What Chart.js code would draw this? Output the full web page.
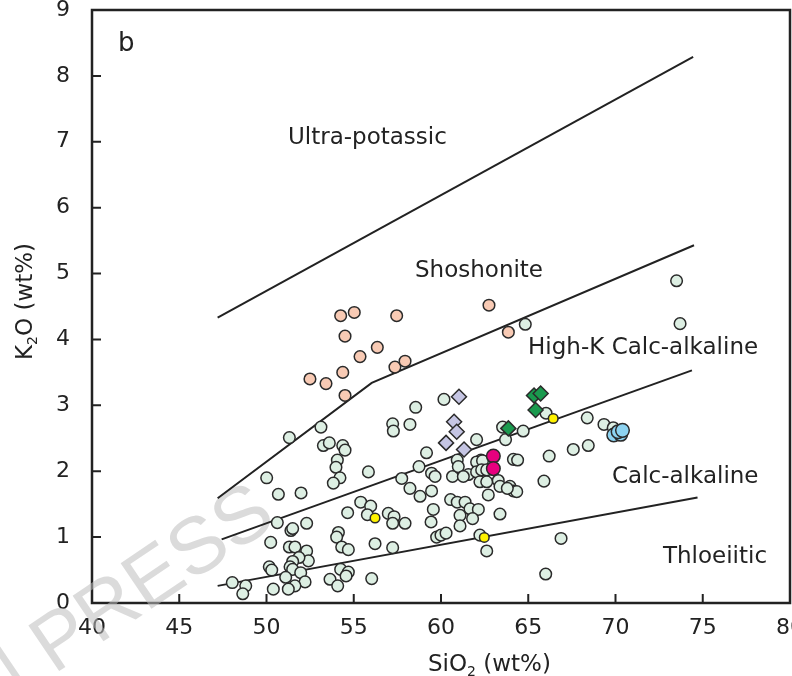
<!DOCTYPE html>
<html>
<head>
<meta charset="utf-8">
<script src="https://cdn.jsdelivr.net/npm/chart.js@4.4.0/dist/chart.umd.min.js"></script>
<style>
  html, body { margin: 0; padding: 0; background: #fff; }
</style>
</head>
<body>
<canvas id="chart" width="792" height="676"></canvas>
<script>
// K2O vs SiO2 classification diagram (panel b)

// axis ticks
const xTicks = [40, 45, 50, 55, 60, 65, 70, 75, 80];
const yTicks = [0, 1, 2, 3, 4, 5, 6, 7, 8, 9];

// field boundary lines
const ultraLineSiO2 = [47.2, 74.45];
const ultraLineK2O = [4.33, 8.29];
const shoLineSiO2 = [47.2, 56.03, 74.5];
const shoLineK2O = [1.59, 3.34, 5.43];
const highKLineSiO2 = [47.43, 74.38];
const highKLineK2O = [0.965, 3.53];
const tholLineSiO2 = [47.2, 74.7];
const tholLineK2O = [0.26, 1.60];

// mint circles
const mintSiO2 = [51.31, 53.12, 53.26, 53.6, 54.37, 54.5, 54.06, 53.98, 54.21, 53.83,
  55.84, 50.01, 50.68, 51.98, 50.62, 52.3, 51.4, 51.5, 50.24, 51.31,
  51.63, 52.3, 52.4, 51.86, 51.5, 51.35, 51.5, 51.96, 51.1, 52.21,
  51.63, 51.25, 50.16, 50.3, 50.39, 48.04, 48.81, 48.64, 54.65, 55.4,
  55.97, 55.78, 56.98, 57.31, 57.23, 54.12, 54.02, 54.31, 54.69, 56.22,
  57.23, 54.25, 54.69, 54.56, 53.64, 54.08, 56.03, 57.23, 57.27, 57.75,
  58.55, 60.17, 58.22, 62.04, 59.17, 58.74, 63.53, 64.71, 63.7, 66.02,
  68.38, 67.58, 68.44, 66.2, 64.15, 64.39, 62.29, 62.04, 60.93, 69.34,
  69.87, 65.9, 66.88, 66.0, 62.23, 62.62, 59.46, 59.66, 60.66, 60.99,
  61.57, 61.28, 62.38, 62.04, 62.33, 62.62, 62.23, 62.62, 63.28, 63.38,
  63.95, 64.15, 64.34, 63.8, 62.71, 58.22, 58.8, 59.46, 60.55, 60.93,
  61.38, 61.66, 62.14, 61.09, 61.09, 61.81, 59.56, 59.43, 63.38, 57.94,
  59.75, 60.0, 60.29, 64.83, 73.5, 73.7];
const mintK2O = [2.51, 2.67, 2.39, 2.43, 2.39, 2.32, 2.17, 2.06, 1.90, 1.82,
  1.99, 1.90, 1.65, 1.67, 1.22, 1.21, 1.10, 1.13, 0.92, 0.85,
  0.85, 0.79, 0.64, 0.69, 0.63, 0.55, 0.51, 0.46, 0.39, 0.32,
  0.26, 0.21, 0.55, 0.50, 0.21, 0.31, 0.26, 0.14, 1.37, 1.53,
  1.47, 1.34, 1.36, 1.31, 1.21, 1.07, 1.0, 0.85, 0.81, 0.90,
  0.84, 0.51, 0.47, 0.41, 0.36, 0.26, 0.37, 2.72, 2.61, 1.89,
  2.97, 3.09, 2.71, 2.48, 2.28, 2.07, 2.67, 2.61, 2.48, 2.88,
  2.81, 2.33, 2.39, 2.23, 2.18, 2.17, 2.17, 2.14, 2.17, 2.71,
  2.66, 1.85, 0.98, 0.44, 1.03, 0.79, 1.97, 1.92, 1.92, 2.07,
  1.95, 1.92, 2.16, 1.99, 2.02, 2.02, 1.84, 1.84, 1.86, 1.77,
  1.77, 1.70, 1.69, 1.74, 1.64, 1.74, 1.62, 1.70, 1.57, 1.53,
  1.53, 1.43, 1.42, 1.33, 1.17, 1.28, 1.42, 1.23, 1.35, 1.21,
  1.0, 1.03, 1.06, 4.23, 4.89, 4.24];

// peach circles
const peachSiO2 = [52.49, 53.41, 54.37, 54.5, 54.5, 55.36, 56.35, 57.36, 57.94, 54.25, 55.03, 57.46, 62.75, 63.86];
const peachK2O = [3.40, 3.33, 3.50, 4.05, 3.15, 3.74, 3.88, 3.58, 3.67, 4.36, 4.41, 4.36, 4.52, 4.11];

// lilac diamonds
const lilacSiO2 = [61.03, 60.75, 60.9, 60.29, 61.32];
const lilacK2O = [3.13, 2.75, 2.6, 2.43, 2.33];

// green diamonds
const greenSiO2 = [65.33, 65.71, 65.42, 63.86];
const greenK2O = [3.15, 3.18, 2.93, 2.65];

// magenta circles
const magentaSiO2 = [63.0, 63.0];
const magentaK2O = [2.23, 2.04];

// yellow circles
const yellowSiO2 = [56.22, 66.43, 62.48];
const yellowK2O = [1.29, 2.80, 0.995];

// sky blue circles
const blueSiO2 = [69.9, 70.3, 70.15, 70.4];
const blueK2O = [2.55, 2.56, 2.6, 2.62];

const FONT = '"DejaVu Sans", sans-serif';
const INK = '#222';

function pts(xs, ys) { return xs.map((x, i) => ({ x: x, y: ys[i] })); }

function lineSet(xs, ys) {
    return { type: 'line', data: pts(xs, ys), borderColor: INK, borderWidth: 2, pointRadius: 0, fill: false, tension: 0, order: 10 };
}

function markerSet(xs, ys, color, style, r, order) {
    return { type: 'scatter', data: pts(xs, ys), pointStyle: style, pointRadius: r, backgroundColor: color,
        borderColor: '#2a2a2a', borderWidth: 1.5, order: order };
}

// text placed at data coordinates (left edge, baseline)
const fieldLabels = [
    { text: 'Ultra-potassic', x: 51.23, y: 6.97 },
    { text: 'Shoshonite', x: 58.51, y: 4.955 },
    { text: 'High-K Calc-alkaline', x: 64.99, y: 3.773 },
    { text: 'Calc-alkaline', x: 69.8, y: 1.823 },
    { text: 'Thloeiitic', x: 72.72, y: 0.606 }
];

function drawParts(ctx, parts, x, y) {
    parts.forEach(p => {
        ctx.font = (p[1] ? '14px ' : '23px ') + FONT;
        ctx.fillText(p[0], x, p[1] ? y + 5 : y);
        x += ctx.measureText(p[0]).width;
    });
}

function noPad(s) {
    s.paddingLeft = 0; s.paddingRight = 0; s.paddingTop = 0; s.paddingBottom = 0;
}

const decor = {
    id: 'decor',
    beforeDatasetsDraw(chart) {
        const ctx = chart.ctx, a = chart.chartArea;
        const xs = chart.scales.x, ys = chart.scales.y;
        ctx.save();
        ctx.strokeStyle = INK;
        ctx.lineWidth = 2.5;
        ctx.strokeRect(a.left, a.top, a.right - a.left, a.bottom - a.top);
        // inward ticks
        ctx.lineWidth = 2;
        ctx.beginPath();
        xTicks.slice(1, -1).forEach(v => {
            const px = xs.getPixelForValue(v);
            ctx.moveTo(px, a.bottom); ctx.lineTo(px, a.bottom - 9);
        });
        yTicks.slice(1, -1).forEach(v => {
            const py = ys.getPixelForValue(v);
            ctx.moveTo(a.left, py); ctx.lineTo(a.left + 9, py);
        });
        ctx.stroke();

        // axis titles
        ctx.fillStyle = INK;
        ctx.textBaseline = 'alphabetic';
        ctx.textAlign = 'left';
        drawParts(ctx, [['SiO'], ['2', true], [' (wt%)']], 428, 671);
        ctx.save();
        ctx.translate(32, 360);
        ctx.rotate(-Math.PI / 2);
        drawParts(ctx, [['K'], ['2', true], ['O (wt%)']], 0, 0);
        ctx.restore();

        // watermark
        ctx.save();
        ctx.translate(52, 676);
        ctx.rotate(-34 * Math.PI / 180);
        ctx.font = '80px "Liberation Sans", sans-serif';
        ctx.fillStyle = 'rgba(190,190,190,0.55)';
        ctx.fillText('IN PRESS', -100, 0);
        ctx.restore();
        ctx.restore();
    },
    afterDatasetsDraw(chart) {
        const ctx = chart.ctx;
        const xs = chart.scales.x, ys = chart.scales.y;
        ctx.save();
        ctx.fillStyle = INK;
        ctx.textAlign = 'left';
        ctx.textBaseline = 'alphabetic';
        ctx.font = '23px ' + FONT;
        fieldLabels.forEach(l => ctx.fillText(l.text, xs.getPixelForValue(l.x), ys.getPixelForValue(l.y)));
        ctx.font = '26px ' + FONT;
        ctx.fillText('b', xs.getPixelForValue(41.49), ys.getPixelForValue(8.38));
        ctx.restore();
    }
};

new Chart(document.getElementById('chart'), {
    data: {
        datasets: [
            lineSet(ultraLineSiO2, ultraLineK2O),
            lineSet(shoLineSiO2, shoLineK2O),
            lineSet(highKLineSiO2, highKLineK2O),
            lineSet(tholLineSiO2, tholLineK2O),
            markerSet(mintSiO2, mintK2O, '#ddefe3', 'circle', 5.8, 7),
            markerSet(peachSiO2, peachK2O, '#f8cab4', 'circle', 5.8, 6),
            markerSet(lilacSiO2, lilacK2O, '#c5c5e3', 'rectRot', 7.5, 5),
            markerSet(greenSiO2, greenK2O, '#1a9a4e', 'rectRot', 7.5, 4),
            markerSet(magentaSiO2, magentaK2O, '#e6007e', 'circle', 6.8, 3),
            markerSet(yellowSiO2, yellowK2O, '#fff200', 'circle', 4.8, 2),
            markerSet(blueSiO2, blueK2O, '#8dd3f1', 'circle', 6.8, 1)
        ]
    },
    options: {
        responsive: false,
        animation: false,
        layout: { autoPadding: false, padding: { top: 10, right: 2, left: 0, bottom: 0 } },
        plugins: { legend: { display: false }, tooltip: { enabled: false } },
        scales: {
            x: {
                type: 'linear', min: 40, max: 80,
                afterFit: s => { s.height = 73; noPad(s); },
                afterBuildTicks: s => { s.ticks = xTicks.map(v => ({ value: v })); },
                grid: { display: false, drawTicks: false },
                border: { display: false },
                ticks: { padding: 12, color: INK, font: { family: 'DejaVu Sans', size: 22 } }
            },
            y: {
                type: 'linear', min: 0, max: 9,
                afterFit: s => { s.width = 92; noPad(s); },
                afterBuildTicks: s => { s.ticks = yTicks.map(v => ({ value: v })); },
                grid: { display: false, drawTicks: false },
                border: { display: false },
                ticks: { padding: 22, color: INK, font: { family: 'DejaVu Sans', size: 22 } }
            }
        }
    },
    plugins: [decor]
});
</script>
</body>
</html>
